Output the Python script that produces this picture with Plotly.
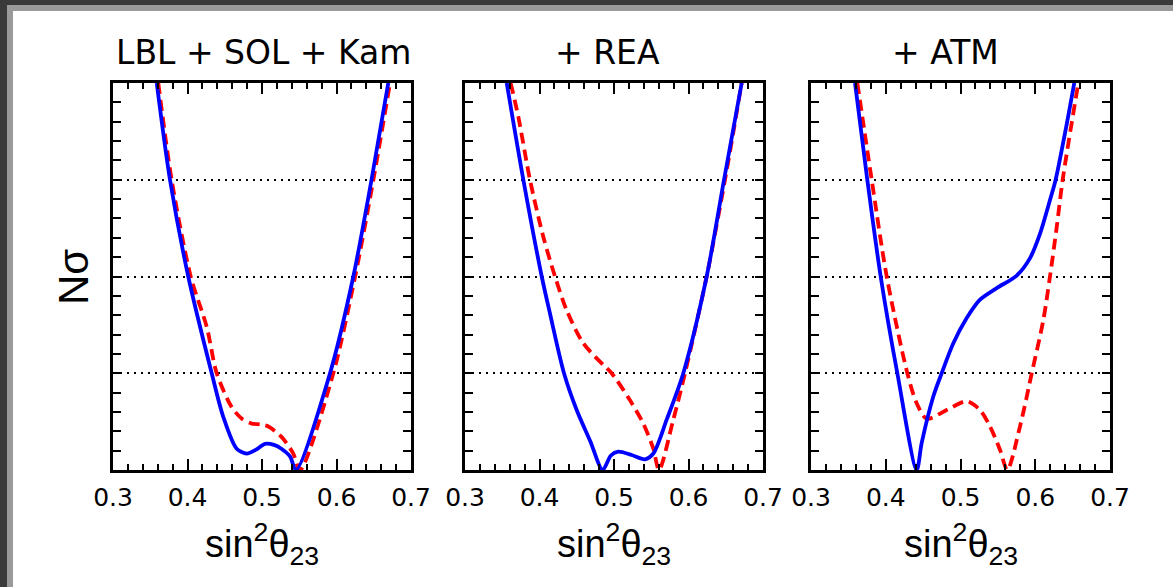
import plotly.graph_objects as go

W, H = 1173, 587

# sin^2(theta_23) scan: number of standard deviations, normal (blue) and inverted (red) ordering
titles = ["LBL + SOL + Kam", "+ REA", "+ ATM"]

x_no_1 = [0.3587, 0.3765, 0.401, 0.4325, 0.448, 0.466, 0.4795, 0.492, 0.504, 0.516, 0.526, 0.5376, 0.5456, 0.5913, 0.6226, 0.647, 0.6695]
y_no_1 = [4.0, 3.0, 2.0, 1.0, 0.55, 0.22, 0.17, 0.21, 0.27, 0.26, 0.22, 0.14, 0.0, 1.0, 2.0, 3.0, 4.0]
x_io_1 = [0.3608, 0.3787, 0.4043, 0.4258, 0.4392, 0.4593, 0.473, 0.486, 0.4985, 0.5085, 0.5265, 0.542, 0.551, 0.5957, 0.625, 0.6495, 0.6718]
y_io_1 = [4.0, 3.0, 2.0, 1.48, 1.0, 0.65, 0.53, 0.48, 0.47, 0.45, 0.34, 0.17, 0.0, 1.0, 2.0, 3.0, 4.0]

x_no_2 = [0.356, 0.3783, 0.403, 0.414, 0.4329, 0.4499, 0.468, 0.4848, 0.4958, 0.5058, 0.5237, 0.5416, 0.5528, 0.5707, 0.593, 0.6244, 0.6477, 0.6714]
y_no_2 = [4.0, 3.0, 2.0, 1.62, 1.0, 0.62, 0.3, 0.0, 0.15, 0.19, 0.155, 0.11, 0.17, 0.52, 1.0, 2.0, 3.0, 4.0]
x_io_2 = [0.3613, 0.3716, 0.3872, 0.4051, 0.4208, 0.4365, 0.4588, 0.4857, 0.4969, 0.5215, 0.5393, 0.5528, 0.5604, 0.5796, 0.5953, 0.6244, 0.649, 0.6714]
y_io_2 = [4.0, 3.65, 3.0, 2.41, 2.0, 1.65, 1.31, 1.085, 1.0, 0.72, 0.48, 0.22, 0.0, 0.52, 1.0, 2.0, 3.0, 4.0]

x_no_3 = [0.3589, 0.3753, 0.3932, 0.4155, 0.4414, 0.4481, 0.4636, 0.4748, 0.4904, 0.5083, 0.5261, 0.5484, 0.5752, 0.593, 0.6063, 0.6197, 0.6273, 0.642, 0.6522]
y_no_3 = [4.0, 3.0, 2.0, 1.0, 0.0, 0.28, 0.76, 1.0, 1.31, 1.57, 1.76, 1.88, 2.01, 2.19, 2.44, 2.79, 3.0, 3.57, 4.0]
x_io_3 = [0.362, 0.3812, 0.4013, 0.4289, 0.4414, 0.4548, 0.4815, 0.5083, 0.5261, 0.5395, 0.5528, 0.5626, 0.5796, 0.5953, 0.6108, 0.6197, 0.6287, 0.6367, 0.6576]
y_io_3 = [4.0, 3.0, 2.0, 1.0, 0.69, 0.53, 0.62, 0.71, 0.62, 0.45, 0.21, 0.0, 0.45, 1.0, 1.55, 2.0, 2.51, 3.0, 4.0]

x_ticks = [0.3, 0.4, 0.5, 0.6, 0.7]
x_tick_text = ["0.3", "0.4", "0.5", "0.6", "0.7"]

panels = [
    (x_no_1, y_no_1, x_io_1, y_io_1),
    (x_no_2, y_no_2, x_io_2, y_io_2),
    (x_no_3, y_no_3, x_io_3, y_io_3),
]

# panel frames in pixels (left, right) and shared top/bottom
px_lr = [(113, 411), (465, 763), (811, 1110)]
py_top, py_bot = 83, 470


def fx(px):
    return px / W


def fy(py):
    return 1 - py / H


fig = go.Figure()

for i, (xn, yn, xi, yi) in enumerate(panels):
    sfx = "" if i == 0 else str(i + 1)
    fig.add_trace(go.Scatter(
        x=xi, y=yi, mode="lines", xaxis="x" + sfx, yaxis="y" + sfx,
        line=dict(color="#ff0000", width=3.8, dash="11px,6px", shape="spline", smoothing=0.8),
        showlegend=False, hoverinfo="skip"))
    fig.add_trace(go.Scatter(
        x=xn, y=yn, mode="lines", xaxis="x" + sfx, yaxis="y" + sfx,
        line=dict(color="#0000ff", width=3.8, shape="spline", smoothing=0.8),
        showlegend=False, hoverinfo="skip"))

axis_common = dict(showline=True, linecolor="black", linewidth=2.5, mirror="allticks",
                   ticks="inside", tickcolor="black", tickwidth=1.8, zeroline=False,
                   automargin=False)

layout = dict(width=W, height=H, margin=dict(l=0, r=0, t=0, b=0, pad=0, autoexpand=False),
              paper_bgcolor="white", plot_bgcolor="white", showlegend=False)

for i, (l, r) in enumerate(px_lr):
    sfx = "" if i == 0 else str(i + 1)
    layout["xaxis" + sfx] = dict(
        axis_common, domain=[fx(l), fx(r)], range=[0.3, 0.7], anchor="y" + sfx,
        tickmode="array", tickvals=x_ticks, ticktext=x_tick_text, ticklen=11,
        minor=dict(dtick=0.02, tick0=0.3, ticklen=6, ticks="inside", tickcolor="black", tickwidth=1.8),
        showgrid=False, ticklabelstandoff=3,
        tickfont=dict(family="DejaVu Sans", size=25, color="black"))
    layout["yaxis" + sfx] = dict(
        axis_common, domain=[fy(py_bot), fy(py_top)], range=[0, 4], anchor="x" + sfx,
        dtick=1, tick0=0, ticklen=8, showticklabels=False,
        minor=dict(dtick=0.2, tick0=0, ticklen=8, ticks="inside", tickcolor="black", tickwidth=1.8),
        showgrid=True, gridcolor="black", gridwidth=1.5, griddash="2px,5px")

fig.update_layout(**layout)

# panel titles
title_cx = [263, 607, 945]
for t, cx in zip(titles, title_cx):
    fig.add_annotation(text=t, x=fx(cx), y=fy(53), xref="paper", yref="paper",
                       xanchor="center", yanchor="middle", showarrow=False,
                       font=dict(family="DejaVu Sans", size=33, color="black"))

# x-axis titles
for l, r in px_lr:
    fig.add_annotation(text="sin<sup>2</sup>θ<sub>23</sub>", x=fx((l + r) / 2), y=fy(544),
                       xref="paper", yref="paper", xanchor="center", yanchor="middle",
                       showarrow=False,
                       font=dict(family="Liberation Sans", size=38, color="black"))

# y-axis title
fig.add_annotation(text="Nσ", x=fx(73), y=fy(277), xref="paper", yref="paper",
                   xanchor="center", yanchor="middle", textangle=-90, showarrow=False,
                   font=dict(family="Liberation Sans", size=42, color="black"))

# window frame along the top and left edges
shapes = [
    dict(type="rect", xref="paper", yref="paper", x0=0, x1=1, y0=fy(5), y1=1,
         fillcolor="#3a3a3a", line=dict(width=0)),
    dict(type="rect", xref="paper", yref="paper", x0=0, x1=fx(7), y0=0, y1=1,
         fillcolor="#3a3a3a", line=dict(width=0)),
    dict(type="rect", xref="paper", yref="paper", x0=fx(7), x1=1, y0=fy(11), y1=fy(5),
         fillcolor="#9a9a9a", line=dict(width=0)),
    dict(type="rect", xref="paper", yref="paper", x0=fx(7), x1=fx(13), y0=0, y1=fy(5),
         fillcolor="#9a9a9a", line=dict(width=0)),
]
fig.update_layout(shapes=shapes)

fig.write_html(
    "out.html",
    post_script="document.body.style.margin='0';document.body.style.overflow='hidden';",
)
